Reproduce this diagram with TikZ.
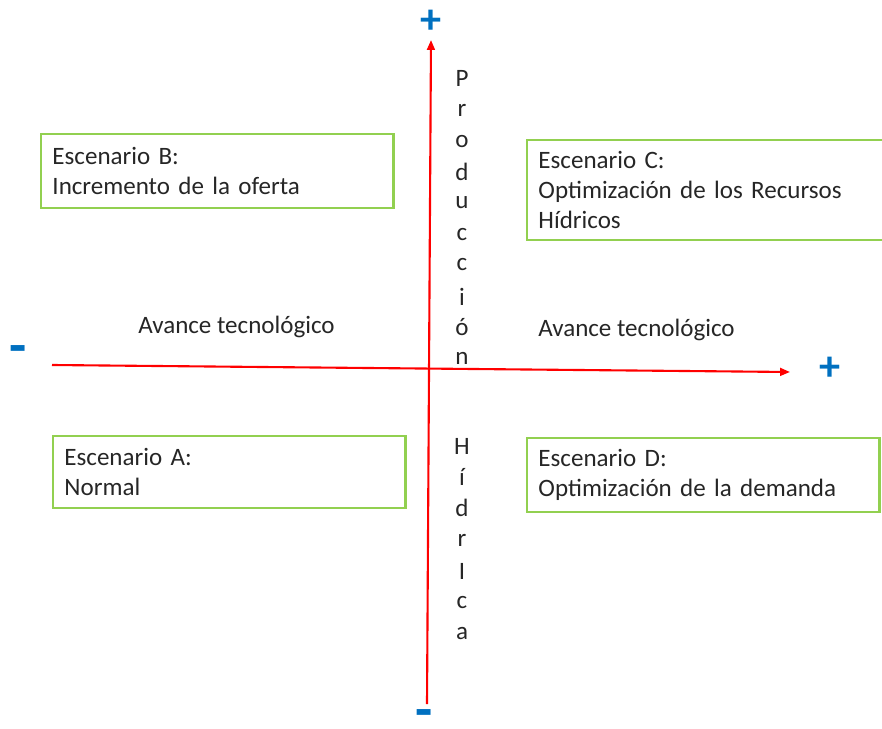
\documentclass[tikz,border=0pt]{standalone}
\usepackage{fontspec}
\setmainfont{Carlito}
\usepackage{tikz}
\usetikzlibrary{positioning,arrows.meta,calc}
\definecolor{axisred}{HTML}{FF0000}
\definecolor{boxgreen}{HTML}{92D050}
\definecolor{signblue}{HTML}{0070C0}
\definecolor{inkgray}{HTML}{262626}
\newcommand{\scenfont}{\fontsize{17.8}{21.4}\selectfont}

\begin{document}
\begin{tikzpicture}[x=0.025cm, y=-0.025cm,
    axis/.style={axisred, line width=1.5pt, -{Triangle[length=7pt,width=5.5pt]}},
    scenbox/.style={draw=boxgreen, line width=1.7pt, text=inkgray, font=\scenfont,
      anchor=north west, align=left, inner xsep=8pt, text width=8.24cm, minimum height=#1},
    sign/.style={text=signblue, font=\fontsize{30}{30}\selectfont\bfseries, inner sep=0pt},
    minus/.style={sign, font=\fontsize{40}{40}\selectfont\bfseries},
    letter/.style={text=inkgray, font=\scenfont, inner sep=0pt},
    axlabel/.style={text=inkgray, font=\scenfont, inner sep=0pt, anchor=west}]
        \clip (0,0) rectangle (882,729);
        % Axes
        \coordinate (xlo) at (52,365);
        \coordinate (xhi) at (790,372);
        \coordinate (ylo) at (427,704);
        \coordinate (yhi) at (431,40);
        \draw[axis] (xlo) -- (xhi);
        \draw[axis] (ylo) -- (yhi);
        % Signs at the ends
        \node[sign] (yplus) at (431,22) {+};
        \node[sign] (xplus) at (830,369) {+};
        \node[minus] (xminus) at (18,355) {-};
        \node[minus] (yminus) at (424,719) {-};
        % Scenarios
        \node[scenbox=1.85cm] (escB) at (40,133)
          {Escenario B:\\Incremento de la oferta};
        \node[scenbox=2.5cm, text width=8.9cm] (escC) at (526,139)
          {Escenario C:\\Optimización de los Recursos\\Hídricos};
        \node[scenbox=1.8cm] (escA) at (52,435)
          {Escenario A:\\Normal};
        \node[scenbox=1.85cm] (escD) at (526,437)
          {Escenario D:\\Optimización de la demanda};
        % Axis labels
        \node[axlabel] (avanceL) at (138,327) {Avance tecnológico};
        \node[axlabel] (avanceR) at (538,330) {Avance tecnológico};
        \foreach \ch/\yy [count=\i] in {P/78,r/110,o/142,d/172,u/203,c/235,c/265,i/297,ó/327,n/358}
          \node[letter] (prod\i) at (462,\yy) {\ch};
        \foreach \ch/\yy [count=\i] in {H/446,í/477,d/508,r/540,I/571,c/603,a/634}
          \node[letter] (hidr\i) at (462,\yy) {\ch};
      \end{tikzpicture}
\end{document}
